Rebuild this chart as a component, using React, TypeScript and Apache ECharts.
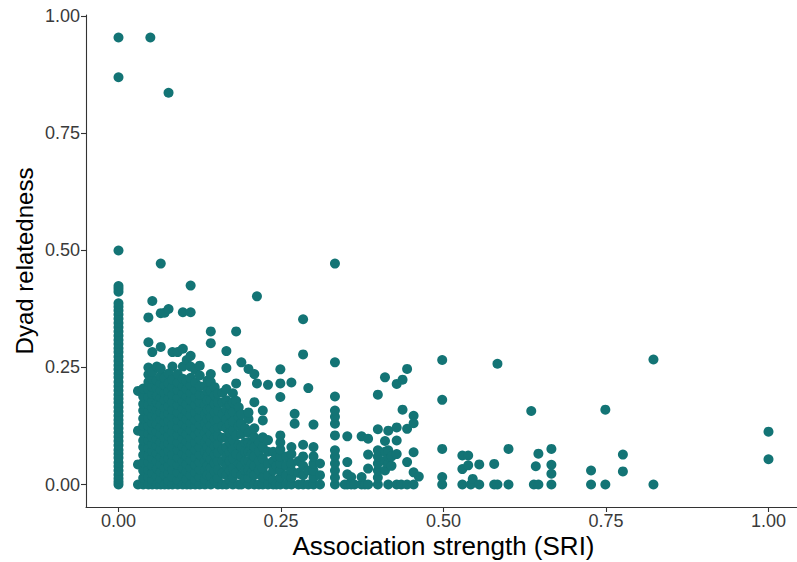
import React, { useEffect, useRef } from "react";
import * as echarts from "echarts";

// Association strength (SRI) columns with dyad relatedness values
const zeroSriRelatedness: number[] = [
  0, 0.006, 0.013, 0.021, 0.03, 0.039, 0.047, 0.057, 0.066, 0.074, 0.084, 0.093, 0.102, 0.111,
  0.12, 0.13, 0.138, 0.147, 0.156, 0.165, 0.175, 0.183, 0.192, 0.201, 0.21, 0.219, 0.229,
  0.237, 0.246, 0.255, 0.264, 0.273, 0.283, 0.291, 0.3, 0.309, 0.318, 0.327, 0.336, 0.345,
  0.354, 0.363, 0.372, 0.38, 0.387, 0.412, 0.418, 0.424, 0.5, 0.87, 0.955,
];

const clusterColumns: [number, number[]][] = [
  [0.03, [0, 0.043, 0.115, 0.2]],
  [0.038, [0, 0.014, 0.03, 0.047, 0.063, 0.08, 0.094, 0.11, 0.126, 0.141, 0.158, 0.172, 0.188, 0.205]],
  [0.046, [0, 0.016, 0.031, 0.048, 0.062, 0.079, 0.095, 0.109, 0.125, 0.142, 0.157, 0.171, 0.187, 0.204, 0.219, 0.235, 0.25, 0.304, 0.357]],
  [0.052, [0, 0.009, 0.024, 0.04, 0.056, 0.071, 0.086, 0.101, 0.117, 0.132, 0.147, 0.163, 0.178, 0.194, 0.209, 0.226, 0.241, 0.283, 0.392]],
  [0.059, [0, 0.018, 0.034, 0.05, 0.067, 0.083, 0.098, 0.113, 0.129, 0.144, 0.159, 0.175, 0.19, 0.206, 0.222, 0.252]],
  [0.065, [0, 0.011, 0.027, 0.043, 0.059, 0.075, 0.091, 0.107, 0.123, 0.139, 0.155, 0.17, 0.186, 0.201, 0.216, 0.232, 0.248, 0.294, 0.366, 0.472]],
  [0.071, [0, 0.02, 0.036, 0.052, 0.068, 0.084, 0.1, 0.116, 0.133, 0.148, 0.164, 0.18, 0.196, 0.212, 0.228, 0.367]],
  [0.077, [0, 0.008, 0.024, 0.04, 0.056, 0.072, 0.088, 0.104, 0.12, 0.136, 0.152, 0.168, 0.184, 0.2, 0.216, 0.237, 0.375, 0.837]],
  [0.083, [0, 0.016, 0.032, 0.048, 0.064, 0.08, 0.096, 0.112, 0.128, 0.144, 0.16, 0.176, 0.192, 0.208, 0.224, 0.252, 0.283]],
  [0.091, [0, 0.01, 0.026, 0.042, 0.058, 0.074, 0.09, 0.106, 0.122, 0.138, 0.154, 0.17, 0.186, 0.202, 0.218, 0.236, 0.283]],
  [0.099, [0, 0.018, 0.034, 0.05, 0.066, 0.082, 0.098, 0.114, 0.13, 0.146, 0.162, 0.178, 0.194, 0.21, 0.226, 0.252, 0.29, 0.368]],
  [0.105, [0, 0.012, 0.028, 0.044, 0.06, 0.076, 0.092, 0.108, 0.124, 0.14, 0.156, 0.172, 0.188, 0.204, 0.22, 0.266]],
  [0.111, [0, 0.02, 0.036, 0.052, 0.068, 0.084, 0.1, 0.116, 0.132, 0.148, 0.164, 0.18, 0.196, 0.212, 0.228, 0.252, 0.275, 0.368, 0.425]],
  [0.118, [0, 0.01, 0.026, 0.042, 0.058, 0.074, 0.09, 0.106, 0.122, 0.138, 0.154, 0.17, 0.186, 0.202, 0.218, 0.245]],
  [0.125, [0, 0.016, 0.032, 0.048, 0.064, 0.08, 0.096, 0.112, 0.128, 0.144, 0.16, 0.176, 0.192, 0.21, 0.233, 0.254]],
  [0.133, [0, 0.01, 0.03, 0.05, 0.07, 0.09, 0.11, 0.13, 0.15, 0.17, 0.19, 0.21]],
  [0.137, [0.02, 0.04, 0.06, 0.08, 0.1, 0.12, 0.14, 0.16, 0.18, 0.2, 0.222]],
  [0.142, [0, 0.018, 0.036, 0.054, 0.072, 0.09, 0.108, 0.126, 0.144, 0.162, 0.18, 0.2, 0.219, 0.236, 0.302, 0.327]],
  [0.148, [0.008, 0.028, 0.046, 0.064, 0.082, 0.1, 0.118, 0.136, 0.154, 0.172, 0.19, 0.208]],
  [0.153, [0, 0.014, 0.032, 0.05, 0.068, 0.086, 0.104, 0.122, 0.14, 0.158, 0.176, 0.195]],
  [0.16, [0, 0.025, 0.05, 0.075, 0.1, 0.125, 0.15, 0.175, 0.196]],
  [0.166, [0, 0.02, 0.04, 0.06, 0.08, 0.1, 0.12, 0.14, 0.16, 0.18, 0.204, 0.249, 0.285]],
  [0.171, [0.01, 0.03, 0.05, 0.07, 0.09, 0.11, 0.13, 0.15, 0.17]],
  [0.176, [0, 0.015, 0.035, 0.055, 0.075, 0.095, 0.115, 0.135, 0.155, 0.175, 0.195]],
  [0.181, [0.025, 0.065, 0.105, 0.179, 0.216, 0.327]],
  [0.185, [0, 0.045, 0.085, 0.125, 0.145, 0.165]],
  [0.189, [0, 0.02, 0.04, 0.06, 0.08, 0.108, 0.13, 0.15, 0.261]],
  [0.195, [0.01, 0.03, 0.05, 0.07, 0.09, 0.12]],
  [0.2, [0, 0.014, 0.03, 0.05, 0.07, 0.09, 0.11, 0.14, 0.154, 0.247]],
  [0.205, [0.025, 0.045, 0.065, 0.085]],
  [0.209, [0, 0.02, 0.04, 0.06, 0.08, 0.101, 0.12, 0.176, 0.236]],
  [0.213, [0.216, 0.402]],
  [0.216, [0, 0.03, 0.05, 0.07, 0.09]],
  [0.222, [0, 0.015, 0.035, 0.055, 0.08, 0.101, 0.137, 0.158]],
  [0.23, [0, 0.02, 0.045, 0.07, 0.095, 0.213]],
  [0.238, [0, 0.01, 0.03, 0.05, 0.07]],
  [0.243, [0, 0.04, 0.06]],
  [0.249, [0, 0.015, 0.03, 0.045, 0.06, 0.075, 0.09, 0.105, 0.187, 0.216, 0.246]],
  [0.258, [0, 0.02, 0.04, 0.06]],
  [0.266, [0, 0.015, 0.03, 0.045, 0.065, 0.08, 0.218]],
  [0.271, [0.13, 0.151]],
  [0.277, [0, 0.025, 0.05]],
  [0.284, [0, 0.02, 0.04, 0.06, 0.085, 0.278, 0.353]],
  [0.292, [0, 0.03, 0.206]],
  [0.3, [0, 0.015, 0.03, 0.045, 0.06, 0.08, 0.128]],
  [0.31, [0, 0.02, 0.045]],
  [0.333, [0, 0.015, 0.03, 0.045, 0.06, 0.073, 0.105, 0.13, 0.145, 0.158, 0.188, 0.261, 0.472]],
  [0.352, [0, 0.022, 0.048, 0.103]],
];

const midColumns: [number, number[]][] = [
  [0.348, [0]],
  [0.358, [0, 0.016]],
  [0.363, [0]],
  [0.374, [0, 0.016, 0.103]],
  [0.379, [0]],
  [0.384, [0, 0.034, 0.064, 0.098]],
  [0.399, [0, 0.015, 0.03, 0.045, 0.06, 0.073, 0.118, 0.192]],
  [0.41, [0.03, 0.05, 0.07, 0.093, 0.229]],
  [0.415, [0, 0.045, 0.06, 0.073, 0.115]],
  [0.42, [0.04, 0.06]],
  [0.428, [0, 0.065, 0.094, 0.122, 0.215]],
  [0.435, [0]],
  [0.437, [0.16, 0.224]],
  [0.444, [0, 0.048, 0.119, 0.247]],
  [0.454, [0, 0.026, 0.069, 0.131, 0.147]],
  [0.462, [0.017]],
];

const highColumns: [number, number[]][] = [
  [0.498, [0, 0.016, 0.076, 0.181, 0.266]],
  [0.529, [0, 0.033, 0.062]],
  [0.538, [0.041, 0.062]],
  [0.542, [0]],
  [0.545, [0.012]],
  [0.555, [0, 0.043]],
  [0.578, [0, 0.044]],
  [0.583, [0, 0.258]],
  [0.6, [0, 0.076]],
  [0.635, [0.157]],
  [0.639, [0]],
  [0.642, [0.039]],
  [0.646, [0, 0.066]],
  [0.666, [0, 0.023, 0.042, 0.076]],
  [0.727, [0, 0.03]],
  [0.749, [0, 0.16]],
  [0.776, [0.028, 0.064]],
  [0.823, [0, 0.267]],
  [1.0, [0.054, 0.113]],
];

const extraDyads: [number, number][] = [
  [0.049, 0.955],
];

const tickValues = [0, 0.25, 0.5, 0.75, 1];

const POINT_COLOR = "#137475";
const FONT = "'Liberation Sans', Arial, Helvetica, sans-serif";

function buildPoints(): [number, number][] {
  const pts: [number, number][] = [];
  zeroSriRelatedness.forEach((y) => pts.push([0, y]));
  [...clusterColumns, ...midColumns, ...highColumns].forEach(([x, ys]) => {
    ys.forEach((y) => pts.push([x, y]));
  });
  extraDyads.forEach((p) => pts.push(p));
  return pts;
}

export default function App() {
  const ref = useRef<HTMLDivElement>(null);

  useEffect(() => {
    if (!ref.current) return;
    const chart = echarts.init(ref.current, undefined, { renderer: "svg" });
    const axisLine = { show: true, onZero: false, lineStyle: { color: "#333333", width: 1.1 } };
    const axisTick = {
      show: true,
      length: 5,
      lineStyle: { color: "#333333", width: 1.1 },
      customValues: tickValues,
    };
    const axisLabelBase = {
      customValues: tickValues,
      formatter: (v: number) => Number(v).toFixed(2),
      color: "#3a3a3a",
      fontSize: 18,
      lineHeight: 18,
      fontFamily: FONT,
      margin: 5,
    };
    chart.setOption({
      animation: false,
      backgroundColor: "#ffffff",
      grid: {
        left: 86,
        top: 15,
        width: 715,
        height: 492,
        containLabel: false,
        outerBoundsMode: "none",
      },
      xAxis: {
        type: "value",
        min: -0.05,
        max: 1.05,
        name: "Association strength (SRI)",
        nameLocation: "middle",
        nameGap: 27,
        nameMoveOverlap: false,
        nameTextStyle: { color: "#000000", fontSize: 26, lineHeight: 24, fontFamily: FONT },
        axisLine,
        axisTick,
        axisLabel: axisLabelBase,
        splitLine: { show: false },
      },
      yAxis: {
        type: "value",
        min: -0.048,
        max: 1.003,
        name: "Dyad relatedness",
        nameLocation: "middle",
        nameGap: 50,
        nameMoveOverlap: false,
        nameTextStyle: { color: "#000000", fontSize: 24, fontFamily: FONT },
        axisLine,
        axisTick,
        axisLabel: { ...axisLabelBase, margin: 6 },
        splitLine: { show: false },
      },
      series: [
        {
          type: "scatter",
          data: buildPoints(),
          symbol: "circle",
          symbolSize: 10,
          itemStyle: { color: POINT_COLOR, opacity: 1 },
          emphasis: { disabled: true },
        },
      ],
    });
    return () => chart.dispose();
  }, []);

  return (
    <div
      ref={ref}
      style={{ position: "fixed", left: 0, top: 0, width: 797, height: 562, background: "#fff" }}
    />
  );
}
